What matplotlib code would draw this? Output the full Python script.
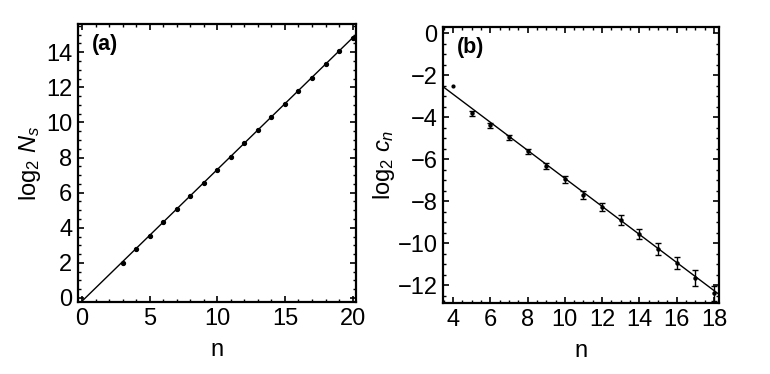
import numpy as np
import matplotlib
matplotlib.use("Agg")
import matplotlib.pyplot as plt
from matplotlib.ticker import MultipleLocator

plt.rcParams['font.family'] = ['Liberation Sans', 'DejaVu Sans']
plt.rcParams['mathtext.fontset'] = 'custom'
plt.rcParams['mathtext.rm'] = 'Liberation Sans'
plt.rcParams['mathtext.it'] = 'Liberation Sans:italic'
plt.rcParams['mathtext.bf'] = 'Liberation Sans:bold'

# panel (a) data
n_a = [3, 4, 5, 6, 7, 8, 9, 10, 11, 12, 13, 14, 15, 16, 17, 18, 19, 20]
log_ns = [2.0, 2.8, 3.55, 4.3, 5.05, 5.8, 6.55, 7.3, 8.05, 8.8, 9.55,
          10.3, 11.05, 11.8, 12.55, 13.3, 14.05, 14.8]
fit_a = (0.75, -0.18)   # slope, intercept

# panel (b) data
n_b = [4, 5, 6, 7, 8, 9, 10, 11, 12, 13, 14, 15, 16, 17, 18]
log_cn = [-2.5, -3.8, -4.37, -4.96, -5.63, -6.32, -6.96, -7.7, -8.28,
          -8.9, -9.54, -10.27, -10.94, -11.66, -12.38]
err_cn = [0.0, 0.12, 0.12, 0.12, 0.12, 0.15, 0.17, 0.18, 0.2,
          0.22, 0.24, 0.28, 0.3, 0.4, 0.36]
fit_b = (-0.668, -0.23)

fs = 17

fig = plt.figure(figsize=(7.7, 3.74), dpi=100)
ax1 = fig.add_axes([0.1013, 0.1925, 0.361, 0.743])
ax2 = fig.add_axes([0.5753, 0.1898, 0.3584, 0.738])


def style(ax):
    for s in ax.spines.values():
        s.set_linewidth(1.6)
    ax.tick_params(which='both', direction='in', top=True, right=True,
                   labelsize=fs, pad=4)
    ax.tick_params(which='major', length=4, width=1.2)
    ax.tick_params(which='minor', length=2.2, width=1.0)


# (a)
xa = np.array([0, 20.3])
ax1.plot(xa, fit_a[0] * xa + fit_a[1], color='black', lw=1.0)
ax1.plot(n_a, log_ns, 'o', color='black', ms=2.8)
ax1.set_xlim(-0.3, 20.25)
ax1.set_ylim(-0.23, 15.6)
ax1.xaxis.set_major_locator(MultipleLocator(5))
ax1.xaxis.set_minor_locator(MultipleLocator(1))
ax1.yaxis.set_major_locator(MultipleLocator(2))
ax1.yaxis.set_minor_locator(MultipleLocator(0.5))
style(ax1)
ax1.set_xlabel('n', fontsize=fs, labelpad=7)
ax1.set_ylabel(r'log$_2$ $N_s$', fontsize=fs, labelpad=2)
ax1.text(0.05, 0.925, '(a)', transform=ax1.transAxes, fontsize=15.5,
         fontweight='bold', va='center', ha='left')

# (b)
xb = np.array([3.4, 18.3])
ax2.plot(xb, fit_b[0] * xb + fit_b[1], color='black', lw=1.0)
ax2.errorbar(n_b[1:], log_cn[1:], yerr=err_cn[1:], fmt='o', color='black',
             ms=2.2, capsize=2.2, elinewidth=1.0, capthick=1.0)
ax2.plot(n_b[:1], log_cn[:1], 'o', color='black', ms=2.0)
ax2.set_xlim(3.46, 18.27)
ax2.set_ylim(-12.85, 0.3)
ax2.xaxis.set_major_locator(MultipleLocator(2))
ax2.xaxis.set_minor_locator(MultipleLocator(0.5))
ax2.yaxis.set_major_locator(MultipleLocator(2))
ax2.yaxis.set_minor_locator(MultipleLocator(0.5))
style(ax2)
ax2.set_yticks([0, -2, -4, -6, -8, -10, -12])
ax2.set_yticklabels(['0', '\u22122', '\u22124', '\u22126', '\u22128', '\u221210', '\u221212'])
ax2.set_xlabel('n', fontsize=fs, labelpad=7)
ax2.set_ylabel(r'log$_2$ $c_n$', fontsize=fs, labelpad=0)
ax2.text(0.05, 0.925, '(b)', transform=ax2.transAxes, fontsize=15.5,
         fontweight='bold', va='center', ha='left')

fig.savefig('out.png', dpi=100)
